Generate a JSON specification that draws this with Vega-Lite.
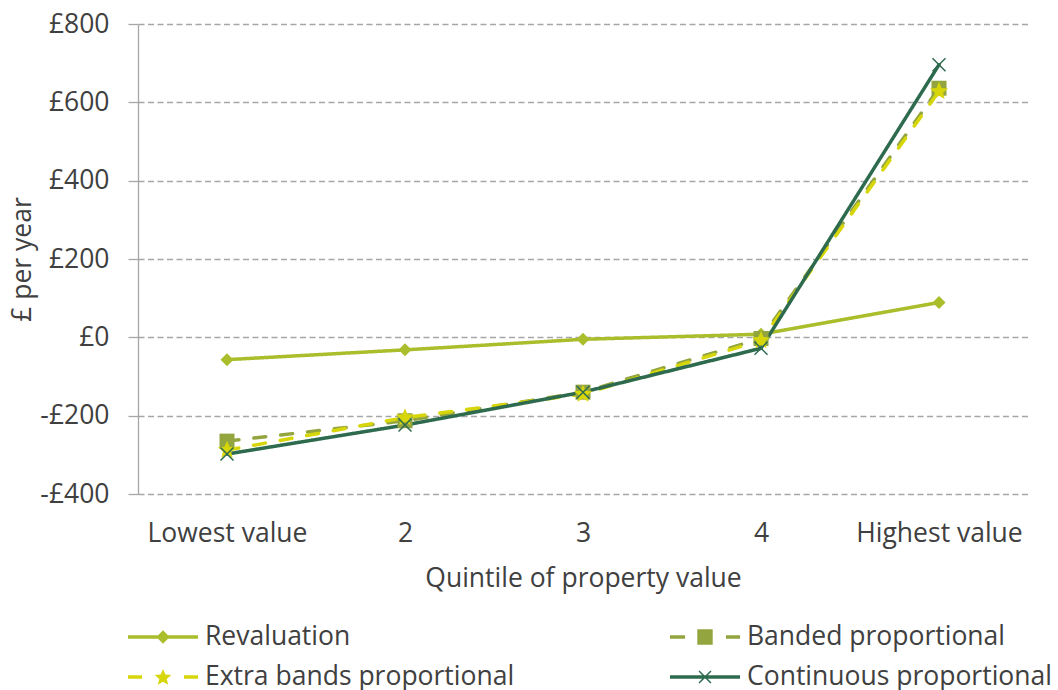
{
  "$schema": "https://vega.github.io/schema/vega-lite/v6.json",
  "width": 890,
  "height": 470,
  "autosize": {"type": "none"},
  "padding": {"left": 138, "top": 24, "right": 30, "bottom": 196},
  "background": "white",
  "config": {"view": {"stroke": null}, "font": "Open Sans"},
  "data": {
    "values": [
      {"q": "Lowest value", "series": "Revaluation", "v": -57},
      {"q": "2", "series": "Revaluation", "v": -32},
      {"q": "3", "series": "Revaluation", "v": -5},
      {"q": "4", "series": "Revaluation", "v": 8},
      {"q": "Highest value", "series": "Revaluation", "v": 89},
      {"q": "Lowest value", "series": "Banded proportional", "v": -265},
      {"q": "2", "series": "Banded proportional", "v": -213},
      {"q": "3", "series": "Banded proportional", "v": -140},
      {"q": "4", "series": "Banded proportional", "v": -3},
      {"q": "Highest value", "series": "Banded proportional", "v": 636},
      {"q": "Lowest value", "series": "Extra bands proportional", "v": -288},
      {"q": "2", "series": "Extra bands proportional", "v": -205},
      {"q": "3", "series": "Extra bands proportional", "v": -145},
      {"q": "4", "series": "Extra bands proportional", "v": -8},
      {"q": "Highest value", "series": "Extra bands proportional", "v": 628},
      {"q": "Lowest value", "series": "Continuous proportional", "v": -298},
      {"q": "2", "series": "Continuous proportional", "v": -224},
      {"q": "3", "series": "Continuous proportional", "v": -140},
      {"q": "4", "series": "Continuous proportional", "v": -28},
      {"q": "Highest value", "series": "Continuous proportional", "v": 696}
    ]
  },
  "encoding": {
    "x": {
      "field": "q",
      "type": "ordinal",
      "sort": ["Lowest value", "2", "3", "4", "Highest value"],
      "scale": {"type": "point", "padding": 0.5},
      "axis": {
        "title": "Quintile of property value",
        "titleFontSize": 26.5,
        "titleFontWeight": "normal",
        "titleColor": "#404040",
        "titleY": 84,
        "titleBaseline": "middle",
        "labelFontSize": 26.5,
        "labelColor": "#404040",
        "labelAngle": 0,
        "labelPadding": 39,
        "labelBaseline": "middle",
        "ticks": false,
        "domain": false,
        "grid": false
      }
    },
    "y": {
      "field": "v",
      "type": "quantitative",
      "scale": {"domain": [-400, 800], "nice": false, "zero": false},
      "axis": {
        "title": "£ per year",
        "titleFontSize": 26.5,
        "titleFontWeight": "normal",
        "titleColor": "#404040",
        "titleX": -116,
        "titleBaseline": "middle",
        "values": [-400, -200, 0, 200, 400, 600, 800],
        "labelExpr": "(datum.value < 0 ? '-£' : '£') + format(abs(datum.value), 'd')",
        "labelFontSize": 26.5,
        "labelColor": "#404040",
        "labelPadding": 19,
        "tickSize": 10,
        "tickColor": "#a6a6a6",
        "tickWidth": 1.3,
        "domainColor": "#a6a6a6",
        "domainWidth": 1.3,
        "grid": true,
        "gridColor": "#a6a6a6",
        "gridDash": [6, 3.5],
        "gridWidth": 1.3
      }
    }
  },
  "layer": [
    {
      "mark": {"type": "point", "filled": true, "opacity": 0, "strokeWidth": 0, "size": 4900},
      "encoding": {
        "color": {
          "field": "series",
          "type": "nominal",
          "scale": {
            "domain": ["Revaluation", "Banded proportional", "Extra bands proportional", "Continuous proportional"],
            "range": ["#aabd2b", "#93a53f", "#d6d60a", "#2e6b4e"]
          },
          "legend": {
            "orient": "none",
            "direction": "horizontal",
            "legendX": -10,
            "legendY": 593,
            "title": null,
            "columns": 2,
            "columnPadding": 155,
            "rowPadding": 0,
            "padding": 0,
            "symbolSize": 4900,
            "symbolStrokeWidth": 0,
            "symbolOpacity": 1,
            "labelFontSize": 26.5,
            "labelColor": "#404040",
            "labelFont": "Open Sans",
            "labelOffset": 7,
            "labelLimit": 500,
            "clipHeight": 40
          }
        },
        "shape": {
          "field": "series",
          "type": "nominal",
          "scale": {
            "domain": ["Revaluation", "Banded proportional", "Extra bands proportional", "Continuous proportional"],
            "range": [
              "M-1,-0.05L1,-0.05L1,0.05L-1,0.05Z M0,-0.19L0.19,0L0,0.19L-0.19,0Z",
              "M-1,-0.05L-0.57,-0.05L-0.57,0.05L-1,0.05Z M0.6,-0.05L1,-0.05L1,0.05L0.6,0.05Z M-0.22,-0.22L0.22,-0.22L0.22,0.22L-0.22,0.22Z",
              "M-1,-0.05L-0.6,-0.05L-0.6,0.05L-1,0.05Z M0.6,-0.05L1,-0.05L1,0.05L0.6,0.05Z M0,-0.23L0.066,-0.071L0.238,-0.057L0.107,0.055L0.147,0.222L0,0.133L-0.147,0.222L-0.107,0.055L-0.238,-0.057L-0.066,-0.071Z",
              "M-1,-0.05L1,-0.05L1,0.05L-1,0.05Z M-0.155,-0.185L0.185,0.155L0.155,0.185L-0.185,-0.155Z M-0.185,0.155L0.155,-0.185L0.185,-0.155L-0.155,0.185Z"
            ]
          },
          "legend": {
            "orient": "none",
            "direction": "horizontal",
            "legendX": -10,
            "legendY": 593,
            "title": null,
            "columns": 2,
            "columnPadding": 155,
            "rowPadding": 0,
            "padding": 0,
            "symbolSize": 4900,
            "symbolStrokeWidth": 0,
            "symbolOpacity": 1,
            "labelFontSize": 26.5,
            "labelColor": "#404040",
            "labelFont": "Open Sans",
            "labelOffset": 7,
            "labelLimit": 500,
            "clipHeight": 40
          }
        }
      }
    },
    {
      "mark": {"type": "line", "strokeWidth": 3.5, "strokeCap": "round", "strokeJoin": "round"},
      "encoding": {
        "stroke": {
          "field": "series",
          "type": "nominal",
          "scale": {
            "domain": ["Revaluation", "Banded proportional", "Extra bands proportional", "Continuous proportional"],
            "range": ["#aabd2b", "#93a53f", "#d6d60a", "#2e6b4e"]
          },
          "legend": null
        },
        "strokeDash": {
          "field": "series",
          "type": "nominal",
          "scale": {
            "domain": ["Revaluation", "Banded proportional", "Extra bands proportional", "Continuous proportional"],
            "range": [[1, 0], [12, 15], [12, 15], [1, 0]]
          },
          "legend": null
        }
      }
    },
    {
      "mark": {"type": "point", "filled": true, "opacity": 1, "strokeWidth": 0, "size": 400},
      "encoding": {
        "fill": {
          "field": "series",
          "type": "nominal",
          "scale": {
            "domain": ["Revaluation", "Banded proportional", "Extra bands proportional", "Continuous proportional"],
            "range": ["#aabd2b", "#93a53f", "#d6d60a", "#2e6b4e"]
          },
          "legend": null
        },
        "shape": {
          "field": "series",
          "type": "nominal",
          "scale": {
            "domain": ["Revaluation", "Banded proportional", "Extra bands proportional", "Continuous proportional"],
            "range": [
              "M0,-0.65L0.65,0L0,0.65L-0.65,0Z",
              "M-0.75,-0.75L0.75,-0.75L0.75,0.75L-0.75,0.75Z",
              "M0,-0.95L0.252,-0.346L0.905,-0.295L0.408,0.132L0.56,0.77L0,0.429L-0.56,0.77L-0.408,0.132L-0.905,-0.295L-0.252,-0.346Z",
              "M-0.597,-0.703L0.703,0.597L0.597,0.703L-0.703,-0.597Z M-0.703,0.597L0.597,-0.703L0.703,-0.597L-0.597,0.703Z"
            ]
          },
          "legend": null
        }
      }
    }
  ],
  "resolve": {"scale": {"shape": "independent", "color": "independent"}}
}
